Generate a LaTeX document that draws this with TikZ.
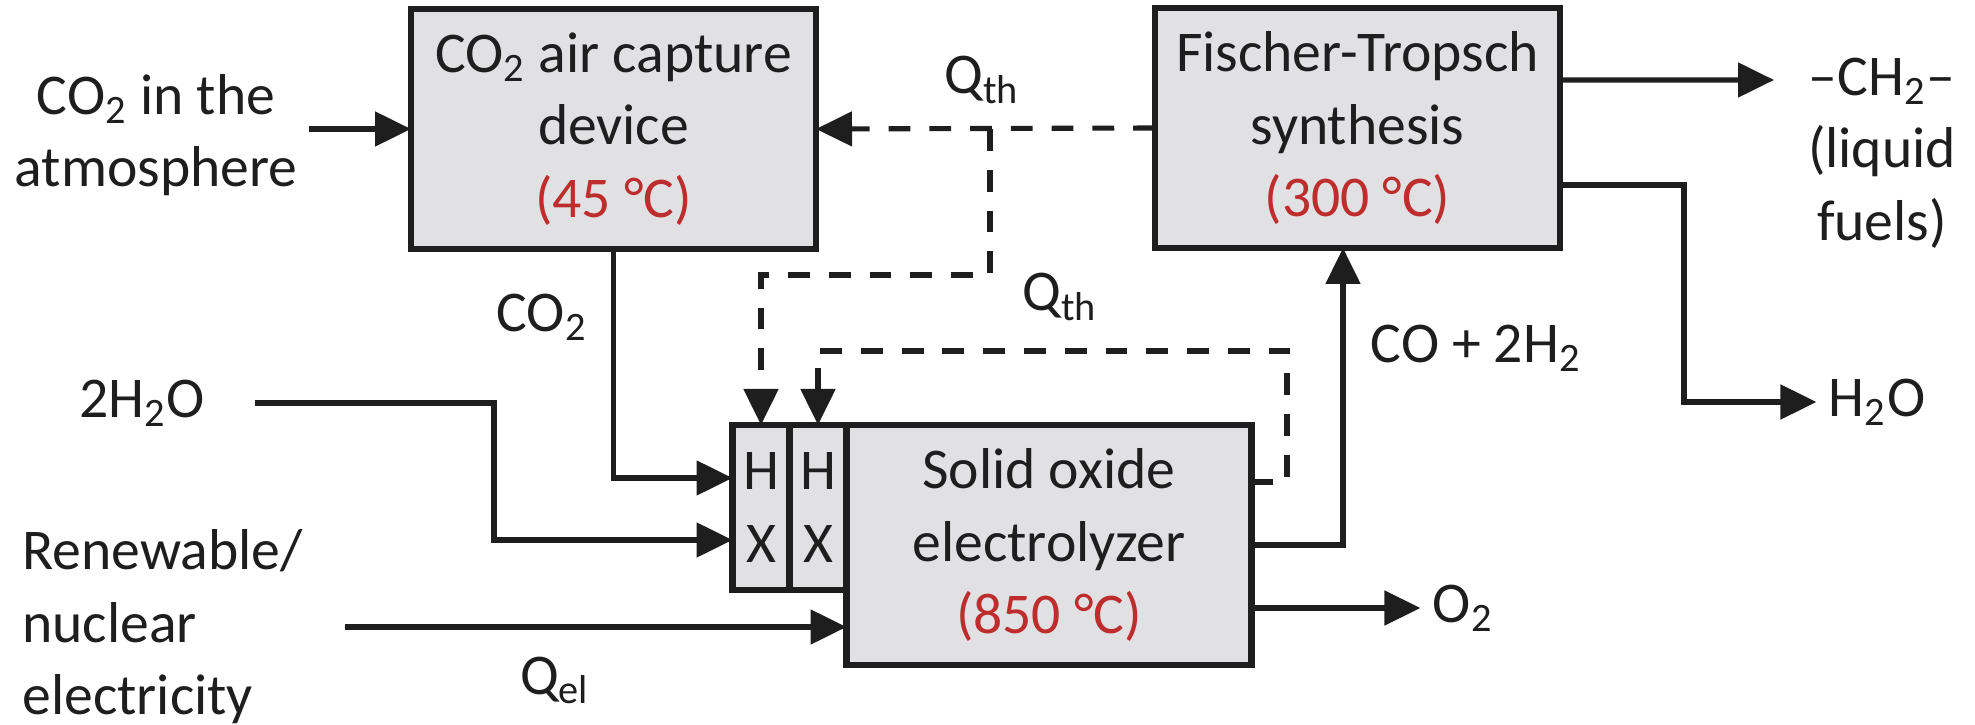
\documentclass[tikz,border=0pt]{standalone}
\usepackage{fontspec}
\setmainfont{Carlito}
\usepackage{xcolor}
\usepackage{tikz}
\usetikzlibrary{arrows.meta,positioning}
\definecolor{fuelInk}{HTML}{1E1E1E}
\definecolor{fuelFill}{HTML}{E1E1E4}
\definecolor{fuelRed}{HTML}{BE2D2D}
\tikzset{
  fuel diagram/.style={font=\fontsize{16.4}{20.6}\selectfont, text=fuelInk,
    line join=miter},
  fuel box/.style={draw=fuelInk, fill=fuelFill, line width=1.9pt,
    align=center, inner sep=2pt, outer sep=0pt,
    minimum width=4.05cm, minimum height=2.4cm},
  fuel hx/.style={fuel box, minimum width=0.57cm, minimum height=1.65cm},
  fuel arrow/.style={-{Triangle[length=3.6mm,width=3.4mm]}, draw=fuelInk,
    line width=1.45pt},
  fuel heat/.style={fuel arrow, dash pattern=on 6.2pt off 5.4pt},
  fuel label/.style={align=center}
}
\begin{document}
\begin{tikzpicture}[fuel diagram]
\useasboundingbox (0,0) rectangle (19.75,-7.25);
\node[fuel box] (capture) at (6.135,-1.29) {CO\textsubscript{2} air capture\\device\\\textcolor{fuelRed}{(45 °C)}};
\node[fuel box] (ft) at (13.575,-1.28) {Fischer-Tropsch\\synthesis\\\textcolor{fuelRed}{(300 °C)}};
\node[fuel box] (soe) at (10.49,-5.45) {Solid oxide\\electrolyzer\\\textcolor{fuelRed}{(850 °C)}};
\node[fuel hx, anchor=north east] (hx2) at (soe.north west) {H\\X};
\node[fuel hx, anchor=north east] (hx1) at (hx2.north west) {H\\X};
\node[fuel label] (atmo) at (1.56,-1.35) {CO\textsubscript{2} in the\\atmosphere};
\node[fuel label] (water) at (1.42,-4.03) {2H\textsubscript{2}O};
\node[align=left, anchor=west] (elec) at (0.10,-6.27) {Renewable/\\nuclear\\electricity};
\node (qel) at (5.55,-6.80) {Q\textsubscript{el}};
\node (co2) at (5.42,-3.17) {CO\textsubscript{2}};
\node (qth top) at (9.82,-0.80) {Q\textsubscript{th}};
\node (qth low) at (10.60,-2.97) {Q\textsubscript{th}};
\node (syngas) at (14.76,-3.48) {CO + 2H\textsubscript{2}};
\node[fuel label] (fuel) at (18.82,-1.53) {–CH\textsubscript{2}–\\(liquid\\fuels)};
\node (water out) at (18.77,-4.02) {H\textsubscript{2}O};
\node (oxygen) at (14.63,-6.08) {O\textsubscript{2}};
\coordinate (atmo in) at (3.09,-1.29);
\coordinate (water in) at (2.55,-4.03);
\coordinate (water bend) at (4.94,-4.03);
\coordinate (elec in) at (3.45,-6.27);
\coordinate (fuel tip) at (17.74,-0.80);
\coordinate (ft bend) at (16.84,-4.02);
\coordinate (heat split) at (9.90,-1.29);
\coordinate (heat low) at (9.90,-2.75);
\coordinate (heat back) at (12.87,-3.51);
\draw[fuel arrow] (atmo in) -- (atmo in -| capture.west);
\draw[fuel arrow] (capture.south) |- ([yshift=2.95mm]hx1.west);
\draw[fuel arrow] (water in) -- (water bend) |- ([yshift=-3.25mm]hx1.west);
\draw[fuel arrow] (elec in) -- (elec in -| soe.west);
\draw[fuel arrow] (soe.east) -| ([xshift=-1.45mm]ft.south);
\draw[fuel arrow] (soe.east |- oxygen.west) -- (oxygen.west);
\draw[fuel arrow] ([yshift=4.8mm]ft.east) -- (fuel tip);
\draw[fuel arrow] ([yshift=-5.7mm]ft.east) -| (ft bend) -- (water out.west);
\draw[fuel heat] (ft.west) -- (capture.east);
\draw[fuel heat] (heat split) -- (heat low) -| (hx1.north);
\draw[fuel heat] ([yshift=6.3mm]soe.east) -| (heat back) -| (hx2.north);
\end{tikzpicture}
\end{document}
